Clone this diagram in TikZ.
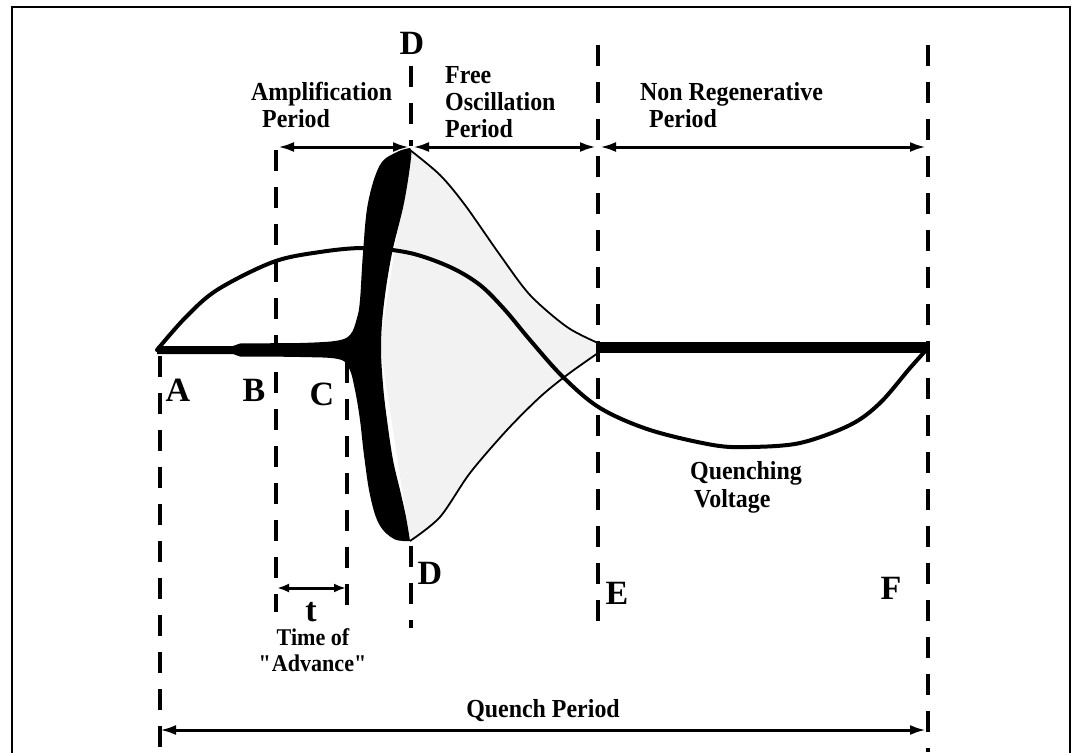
\documentclass[tikz,border=0pt]{standalone}
\usepackage{fontspec}
\setmainfont{Liberation Serif}
\newfontfamily\cond[FakeStretch=0.92]{Liberation Serif}
\usetikzlibrary{arrows.meta}
\begin{document}
\begin{tikzpicture}[x=1pt,y=-1pt,
  vdash/.style={line width=3.5pt, dash pattern=on 21pt off 16pt},
  span/.style={line width=3pt, {Latex[length=16pt,width=10pt]}-{Latex[length=16pt,width=10pt]}},
  smallspan/.style={line width=3pt, {Latex[length=12pt,width=9pt]}-{Latex[length=12pt,width=9pt]}},
  lbl/.style={font=\cond\fontsize{26}{26}\selectfont\bfseries, inner sep=0pt, anchor=base west},
  lblc/.style={font=\cond\fontsize{24}{24}\selectfont\bfseries, inner sep=0pt, anchor=base},
  big/.style={font=\fontsize{34}{34}\selectfont\bfseries, inner sep=0pt},
  env/.style={line width=1.8pt, line join=round},
  quench/.style={line width=4pt, line cap=round, line join=round}]
\useasboundingbox (0,0) rectangle (1081,752);
% frame
\draw[line width=2.5pt] (12,760) -- (12,7) -- (1070,7) -- (1070,760);
% coordinates of the period markers
\coordinate (A1) at (160,356);  \coordinate (A2) at (160,752);
\coordinate (B1) at (276,150);  \coordinate (B2) at (276,612);
\coordinate (C1) at (347,362);  \coordinate (C2) at (347,612);
\coordinate (D1) at (411,66);   \coordinate (D2) at (411,146);
\coordinate (D3) at (411,546);  \coordinate (D4) at (411,628);
\coordinate (E1) at (598,45);   \coordinate (E2) at (598,628);
\coordinate (F1) at (928,45);   \coordinate (F2) at (928,752);
% grey free-oscillation region
\fill[black!5] (410,150) -- plot[smooth] coordinates {(410,150) (440,175) (465,205) (500,255) (530,295) (567,327) (598,343)}
  -- (598,353) -- plot[smooth] coordinates {(598,353) (567,375) (540,397) (507,430) (470,473) (440,517) (410,541)}
  -- (380,345) -- cycle;
% dashed lines
\draw[vdash] (A1) -- (A2);
\draw[vdash] (B1) -- (B2);
\draw[vdash] (C1) -- (C2);
\draw[vdash] (D1) -- (D2);
\draw[vdash] (D3) -- (D4);
\draw[vdash] (E1) -- (E2);
\draw[vdash] (F1) -- (F2);
% thin decay envelopes
\draw[env] plot[smooth] coordinates {(410,150) (440,175) (465,205) (500,255) (530,295) (567,327) (598,343)};
\draw[env] plot[smooth] coordinates {(598,353) (567,375) (540,397) (507,430) (470,473) (440,517) (410,541)};
% black build-up of oscillation
\fill[black] (157,346) -- (233,346) -- (240,343.5)
  -- plot[smooth, tension=0.6] coordinates {(300,343) (335,341) (350,335) (357,318) (360,300) (363,253) (368,203) (380,165) (397,152) (410,148)}
  -- plot[smooth, tension=0.6] coordinates {(410,148) (411,158) (404,203) (392,253) (384,303) (381,345) (383,385) (387,420) (393,460) (400,490) (406,517) (410,541)}
  -- plot[smooth, tension=0.6] coordinates {(410,541) (394,539) (379,524) (370,495) (364,455) (360,420) (355,390) (349,368) (338,359) (300,357) (240,356.5)}
  -- (233,354) -- (157,354) -- cycle;
% non regenerative steady line
\fill[black] (597,342) rectangle (929,353);
% quenching voltage
\draw[quench] plot[smooth, tension=0.55] coordinates {(157,350) (185,318) (217,290) (273,262) (320,252) (365,248) (410,253) (450,267) (480,285) (505,310) (530,340) (563,377) (600,408) (650,430) (713,445) (750,447) (800,443) (850,425) (880,403) (910,368) (928,348)};
% period arrows
\draw[span] (278,147) coordinate (P1) -- (409,147) coordinate (P2);
\draw[span] (413,147) coordinate (P3) -- (596,147) coordinate (P4);
\draw[span] (600,147) coordinate (P5) -- (926,147) coordinate (P6);
\draw[smallspan] (277,588) coordinate (T1) -- (346,588) coordinate (T2);
\draw[span] (160,730) coordinate (Q1) -- (926,730) coordinate (Q2);
% texts
\node[lbl] (amp1) at (251,100) {Amplification};
\node[lbl] (amp2) at (262,127) {Period};
\node[lbl] (free1) at (445,83) {Free};
\node[lbl] (free2) at (445,110) {Oscillation};
\node[lbl] (free3) at (445,137) {Period};
\node[lbl] (non1) at (640,100) {Non Regenerative};
\node[lbl] (non2) at (649,127) {Period};
\node[lbl] (qv1) at (690,479) {Quenching};
\node[lbl] (qv2) at (694,507) {Voltage};
\node[lblc] (adv1) at (313,645) {Time of};
\node[lblc] (adv2) at (313,671) {\textquotedbl Advance\textquotedbl};
\node[lbl, anchor=base] (qp) at (543,717) {Quench Period};
\node[big] (lA) at (178,390) {A};
\node[big] (lB) at (254,390) {B};
\node[big] (lC) at (322,394) {C};
\node[big] (lD1) at (412,43) {D};
\node[big] (lD2) at (430,573) {D};
\node[big] (lE) at (617,593) {E};
\node[big] (lF) at (891,588) {F};
\node[big] (lt) at (311,612) {t};
\end{tikzpicture}
\end{document}
